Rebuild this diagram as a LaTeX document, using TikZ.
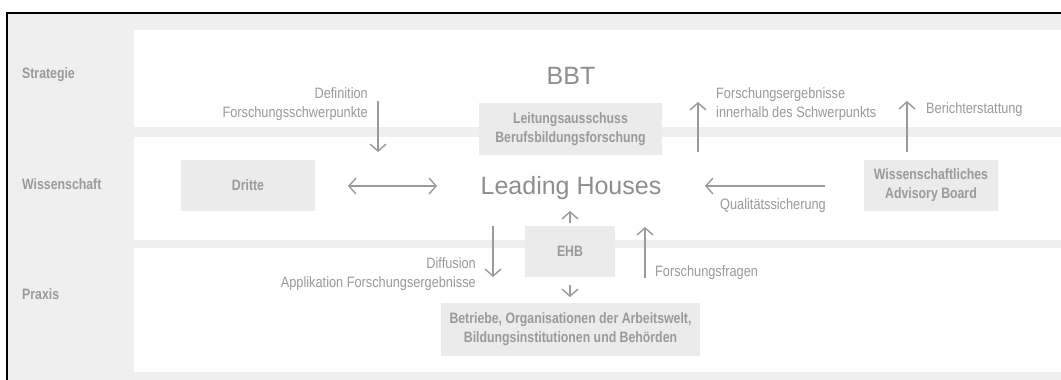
\documentclass[tikz,border=0pt]{standalone}
\usepackage{fontspec}
\setmainfont{Liberation Sans}
\newfontfamily\condfont[FakeStretch=0.85]{Liberation Sans}
\newfontfamily\condbf[FakeStretch=0.82]{Liberation Sans}
\usetikzlibrary{arrows.meta}
\definecolor{bggray}{HTML}{EFEFEF}
\definecolor{boxgray}{HTML}{EBEBEB}
\definecolor{txtgray}{HTML}{9A9A9A}
\definecolor{bigtxt}{HTML}{8E8E8E}
\definecolor{arrgray}{HTML}{9A9A9A}
\tikzset{
  lbl/.style={inner sep=0pt, text=txtgray, font={\condfont\fontsize{15}{19}\selectfont}},
  lane/.style={lbl, font={\condbf\bfseries\fontsize{15}{19}\selectfont}, anchor=base west},
  boxnode/.style={fill=boxgray, inner sep=0pt, text=txtgray, align=center,
    font={\condbf\bfseries\fontsize{15}{19}\selectfont}},
  big/.style={inner sep=0pt, text=bigtxt, font={\fontsize{25}{30}\selectfont}},
  arr/.style={draw=arrgray, line width=1.4pt, -{Straight Barb[length=7pt,width=16pt,line width=1.4pt]}},
  darr/.style={draw=arrgray, line width=1.4pt, {Straight Barb[length=7pt,width=16pt,line width=1.4pt]}-{Straight Barb[length=7pt,width=16pt,line width=1.4pt]}},
}
\begin{document}
\begin{tikzpicture}[x=1pt,y=-1pt]
\useasboundingbox (0,0) rectangle (1061,380);
% background
\fill[bggray] (8,13) rectangle (1061,380);
\fill[white] (134,30) rectangle (1061,127);
\fill[white] (134,136.5) rectangle (1061,240);
\fill[white] (134,247.5) rectangle (1061,372);
\draw[black, line width=2pt] (7,380) -- (7,13) -- (1061,13);
% lane labels
\node[lane] (ls) at (22,78) {Strategie};
\node[lane] (lw) at (22,189) {Wissenschaft};
\node[lane] (lp) at (22,299) {Praxis};
% big texts
\node[big, anchor=base] (bbt) at (571,84) {BBT};
\node[big, anchor=base] (lh) at (571,194) {Leading Houses};
% boxes
\node[boxnode, minimum width=183pt, minimum height=52pt] (la) at (570.5,129) {Leitungsausschuss\\Berufsbildungsforschung};
\node[boxnode, minimum width=134pt, minimum height=51pt] (dr) at (248,185.5) {Dritte};
\node[boxnode, minimum width=134pt, minimum height=51pt] (ab) at (931,185.5) {Wissenschaftliches\\Advisory Board};
\node[boxnode, minimum width=90pt, minimum height=51pt] (ehb) at (570,251.5) {EHB};
\node[boxnode, minimum width=259pt, minimum height=53pt] (bo) at (570.5,329.5) {Betriebe, Organisationen der Arbeitswelt,\\Bildungsinstitutionen und Behörden};
% labels
\node[lbl, anchor=east, align=right] (tdef) at (368,104) {Definition\\Forschungsschwerpunkte};
\node[lbl, anchor=west, align=left] (tfe) at (716,104) {Forschungsergebnisse\\innerhalb des Schwerpunkts};
\node[lbl, anchor=base west] (tbe) at (926,113) {Berichterstattung};
\node[lbl, anchor=base west] (tqs) at (720,209) {Qualitätssicherung};
\node[lbl, anchor=east, align=right] (tdi) at (476,274) {Diffusion\\Applikation Forschungsergebnisse};
\node[lbl, anchor=base west] (tff) at (655,276) {Forschungsfragen};
% arrow endpoints
\coordinate (a1s) at (378,101); \coordinate (a1e) at (378,152);
\coordinate (a2s) at (698,152); \coordinate (a2e) at (698,102);
\coordinate (a3s) at (907,152); \coordinate (a3e) at (907,101);
\coordinate (a4s) at (825,186); \coordinate (a4e) at (705,186);
\coordinate (a5s) at (348,186); \coordinate (a5e) at (437,186);
\coordinate (a6s) at (570,223); \coordinate (a6e) at (570,211);
\coordinate (a7s) at (493,226); \coordinate (a7e) at (493,277);
\coordinate (a8s) at (645,278); \coordinate (a8e) at (645,227);
\coordinate (a9s) at (570,285); \coordinate (a9e) at (570,297);
\draw[arr] (a1s) -- (a1e);
\draw[arr] (a2s) -- (a2e);
\draw[arr] (a3s) -- (a3e);
\draw[arr] (a4s) -- (a4e);
\draw[darr] (a5s) -- (a5e);
\draw[arr] (a6s) -- (a6e);
\draw[arr] (a7s) -- (a7e);
\draw[arr] (a8s) -- (a8e);
\draw[arr] (a9s) -- (a9e);
\end{tikzpicture}
\end{document}
